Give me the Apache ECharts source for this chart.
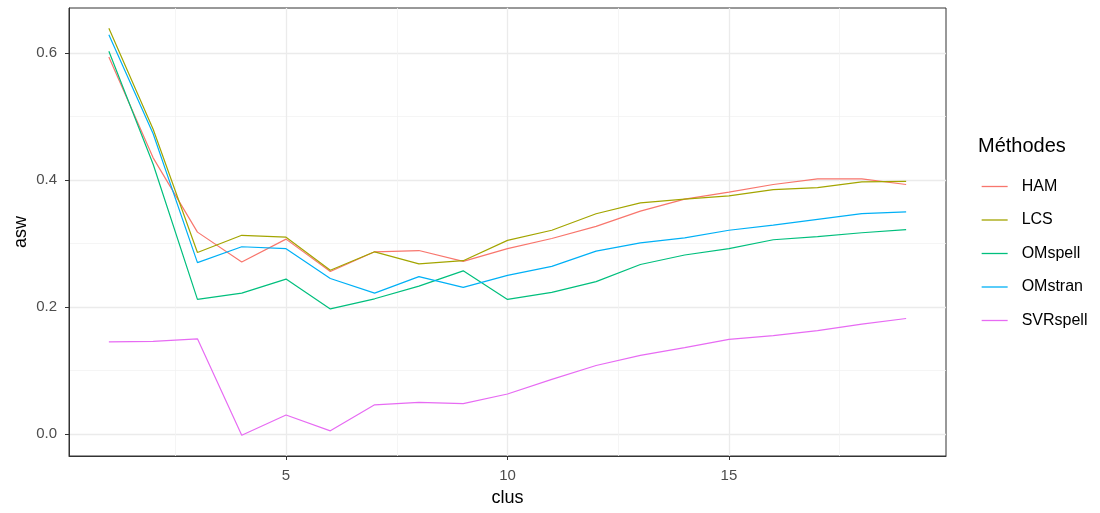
<!DOCTYPE html>
<html>
<head>
<meta charset="utf-8">
<script src="https://cdn.jsdelivr.net/npm/echarts@6/dist/echarts.min.js"></script>
<style>
  html, body { margin: 0; padding: 0; background: #fff; }
  #chart { width: 1100px; height: 513px; }
</style>
</head>
<body>
<div id="chart"></div>
<script>
// clus values (x axis)
const clus = [1, 2, 3, 4, 5, 6, 7, 8, 9, 10, 11, 12, 13, 14, 15, 16, 17, 18, 19];

// asw per method
const ham      = [0.594, 0.435, 0.318, 0.271, 0.307, 0.256, 0.287, 0.289, 0.272, 0.292, 0.308, 0.327, 0.351, 0.370, 0.381, 0.393, 0.402, 0.402, 0.393];
const lcs      = [0.639, 0.480, 0.286, 0.313, 0.310, 0.258, 0.287, 0.268, 0.273, 0.305, 0.321, 0.347, 0.364, 0.370, 0.375, 0.385, 0.388, 0.397, 0.398];
const omspell  = [0.603, 0.425, 0.212, 0.222, 0.244, 0.197, 0.213, 0.233, 0.257, 0.212, 0.223, 0.240, 0.267, 0.282, 0.292, 0.306, 0.311, 0.317, 0.322];
const omstran  = [0.629, 0.473, 0.270, 0.295, 0.292, 0.245, 0.222, 0.248, 0.231, 0.250, 0.264, 0.288, 0.301, 0.309, 0.321, 0.329, 0.338, 0.347, 0.350];
const svrspell = [0.145, 0.146, 0.150, -0.002, 0.030, 0.005, 0.046, 0.050, 0.048, 0.063, 0.086, 0.108, 0.124, 0.136, 0.149, 0.155, 0.163, 0.173, 0.182];

const methodNames = ["HAM", "LCS", "OMspell", "OMstran", "SVRspell"];
const methodValues = [ham, lcs, omspell, omstran, svrspell];
const colors = ["#F8766D", "#A3A500", "#00BF7D", "#00B0F6", "#E76BF3"];

// tick labels
const xTicks = [5, 10, 15];
const xMinor = [2.5, 7.5, 12.5, 17.5];
const yTicks = [0, 0.2, 0.4, 0.6];
const yMinor = [0.1, 0.3, 0.5];

const font = "Liberation Sans, Arial, sans-serif";

const chart = echarts.init(document.getElementById("chart"));

const series = methodNames.map(function (name, i) {
  return {
    name: name,
    type: "line",
    symbol: "none",
    xAxisIndex: 0,
    yAxisIndex: 0,
    lineStyle: { width: 1.2, color: colors[i] },
    itemStyle: { color: colors[i] },
    data: clus.map(function (c, j) { return [c, methodValues[i][j]]; }),
  };
});

function minorAxis(values, min, max, pos) {
  return {
    type: "value",
    min: min,
    max: max,
    position: pos,
    axisLine: { show: false, onZero: false },
    axisLabel: { show: false, customValues: values },
    axisTick: { show: false, customValues: values },
    splitLine: { show: true, lineStyle: { color: "#F2F2F2", width: 0.8 } },
  };
}

chart.setOption({
  animation: false,
  textStyle: { fontFamily: font },
  title: {
    text: "Méthodes",
    left: 973,
    top: 131,
    textStyle: { fontSize: 20, fontWeight: "normal", color: "#000", fontFamily: font },
  },
  legend: {
    orient: "vertical",
    left: 976,
    top: 173.5,
    itemWidth: 26,
    itemHeight: 14,
    itemGap: 17.5,
    data: methodNames,
    itemStyle: { opacity: 0 },
    lineStyle: { width: 1.3 },
    textStyle: { fontSize: 16, color: "#000", fontFamily: font, padding: [0, 0, 0, 9] },
  },
  grid: {
    left: 69,
    right: 154,
    top: 8,
    bottom: 57,
    show: true,
    borderColor: "#333333",
    borderWidth: 1,
    backgroundColor: "transparent",
  },
  xAxis: [
    {
      type: "value",
      min: 0.1,
      max: 19.9,
      name: "clus",
      nameLocation: "middle",
      nameGap: 33,
      nameTextStyle: { fontSize: 18, color: "#000", fontFamily: font },
      axisLine: { show: true, onZero: false, lineStyle: { color: "#333333", width: 1 } },
      axisTick: { show: true, length: 4, customValues: xTicks, lineStyle: { color: "#333333" } },
      axisLabel: { customValues: xTicks, margin: 12, fontSize: 15, color: "#4D4D4D", fontFamily: font },
      splitLine: { show: true, lineStyle: { color: "#EBEBEB", width: 1.3 } },
    },
    minorAxis(xMinor, 0.1, 19.9, "bottom"),
  ],
  yAxis: [
    {
      type: "value",
      min: -0.0346,
      max: 0.671,
      name: "asw",
      nameLocation: "middle",
      nameRotate: 90,
      nameGap: 39,
      nameMoveOverlap: false,
      nameTextStyle: { fontSize: 18, color: "#000", fontFamily: font },
      axisLine: { show: true, onZero: false, lineStyle: { color: "#333333", width: 1 } },
      axisTick: { show: true, length: 4, customValues: yTicks, lineStyle: { color: "#333333" } },
      axisLabel: {
        customValues: yTicks,
        margin: 12,
        fontSize: 15,
        color: "#4D4D4D",
        fontFamily: font,
        formatter: function (v) { return v.toFixed(1); },
      },
      splitLine: { show: true, lineStyle: { color: "#EBEBEB", width: 1.3 } },
    },
    minorAxis(yMinor, -0.0346, 0.671, "left"),
  ],
  series: series,
});
</script>
</body>
</html>
